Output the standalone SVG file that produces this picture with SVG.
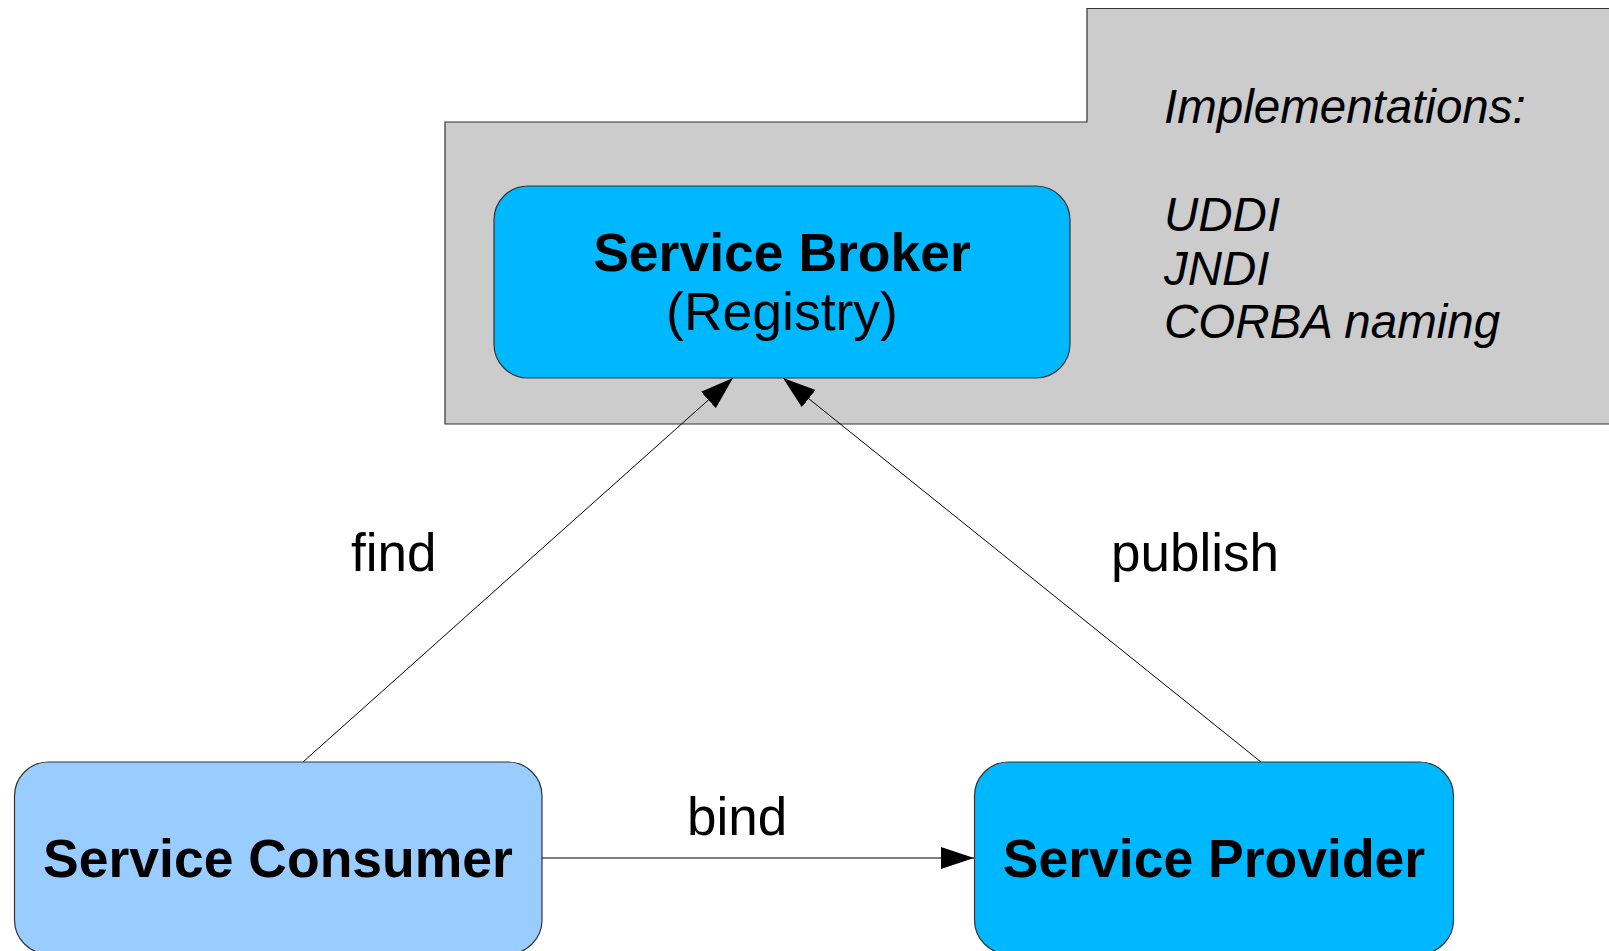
<svg xmlns="http://www.w3.org/2000/svg" width="1609" height="951" viewBox="0 0 1609 951">
  <defs>
    <marker id="arrow" markerUnits="userSpaceOnUse" markerWidth="34" markerHeight="24" refX="33" refY="11" orient="auto">
      <path d="M0,0 L33,11 L0,22 Z" fill="#000"/>
    </marker>
    <style>
      .node { stroke: #333; stroke-width: 1.2; }
      .broker { fill: #00b8ff; }
      .provider { fill: #00b8ff; }
      .consumer { fill: #99ccff; }
      .title { font-family: "Liberation Sans", Arial, sans-serif; font-size: 53.5px; font-weight: bold; fill: #000; text-anchor: middle; }
      .sub { font-family: "Liberation Sans", Arial, sans-serif; font-size: 53.5px; fill: #000; text-anchor: middle; }
      .label { font-family: "Liberation Sans", Arial, sans-serif; font-size: 53px; fill: #000; }
      .impl { font-family: "Liberation Sans", Arial, sans-serif; font-size: 47.5px; font-style: italic; fill: #000; }
      .edge { stroke: #000; stroke-width: 1; fill: none; }
    </style>
  </defs>
  <rect width="1609" height="951" fill="#fff"/>

  <!-- registry backdrop with implementation list -->
  <g id="registry-area">
    <path d="M445,122 H1087 V8.5 H1612 V424 H445 Z" fill="#cccccc" stroke="#333" stroke-width="1.2"/>
    <text class="impl" x="1164" y="123">Implementations:</text>
    <text class="impl" x="1164" y="231">UDDI</text>
    <text class="impl" x="1164" y="284.5">JNDI</text>
    <text class="impl" x="1164" y="338">CORBA naming</text>
  </g>

  <g id="broker">
    <rect class="node broker" x="494" y="186" width="576" height="192" rx="34" ry="34"/>
    <text class="title" x="782" y="271">Service Broker</text>
    <text class="sub" x="782" y="330">(Registry)</text>
  </g>

  <g id="consumer">
    <rect class="node consumer" x="14.5" y="762" width="527.5" height="192" rx="34" ry="34"/>
    <text class="title" x="278" y="877">Service Consumer</text>
  </g>

  <g id="provider">
    <rect class="node provider" x="974.5" y="762" width="479" height="192" rx="34" ry="34"/>
    <text class="title" x="1214" y="877">Service Provider</text>
  </g>

  <g id="connectors">
    <line class="edge" x1="303" y1="762" x2="733" y2="378" marker-end="url(#arrow)"/>
    <line class="edge" x1="1261" y1="762" x2="783" y2="378" marker-end="url(#arrow)"/>
    <line class="edge" x1="542" y1="858" x2="974" y2="858" marker-end="url(#arrow)"/>
    <text class="label" x="351" y="571">find</text>
    <text class="label" x="1111" y="571">publish</text>
    <text class="label" x="687" y="835">bind</text>
  </g>
</svg>
